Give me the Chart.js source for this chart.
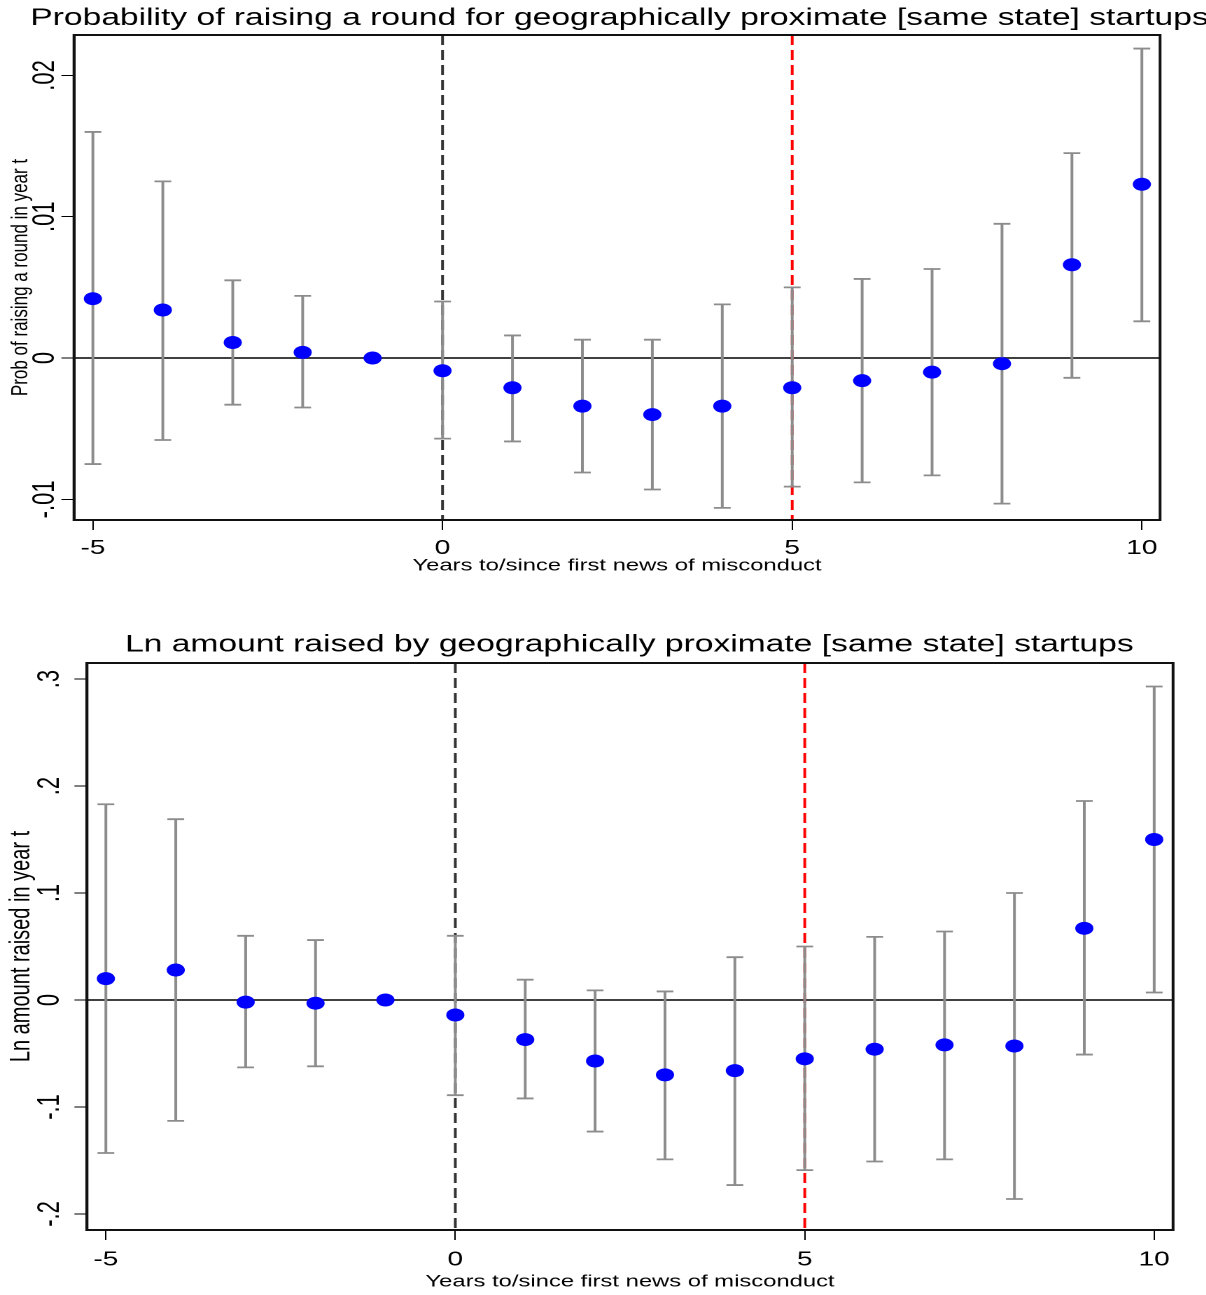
<!DOCTYPE html>
<html>
<head>
<meta charset="utf-8">
<script src="https://cdn.jsdelivr.net/npm/chart.js@4.4.1/dist/chart.umd.min.js"></script>
<style>
    html, body { margin: 0; padding: 0; background: #fff; overflow: hidden; }
    #wrap { position: relative; width: 1206px; height: 1295px; overflow: hidden; }
    /* the original figure is stretched sideways, so the canvases are too */
    canvas { position: absolute; left: 0; transform: scaleX(1.4); transform-origin: 0 0; }
    #probChart { top: 0; }
    #amountChart { top: 600px; }
</style>
</head>
<body>
<div id="wrap">
    <canvas id="probChart" width="885" height="600"></canvas>
    <canvas id="amountChart" width="899" height="695"></canvas>
</div>
<script>
const years = [-5, -4, -3, -2, -1, 0, 1, 2, 3, 4, 5, 6, 7, 8, 9, 10];
const yearTicks = [-5, 0, 5, 10];
const yearTickLabels = ['-5', '0', '5', '10'];

// top panel: probability of raising a round
const probCoef = [0.0042, 0.0034, 0.0011, 0.0004, 0, -0.0009, -0.0021, -0.0034, -0.0040, -0.0034, -0.0021, -0.0016, -0.0010, -0.0004, 0.0066, 0.0123];
const probLow = [-0.0075, -0.0058, -0.0033, -0.0035, null, -0.0057, -0.0059, -0.0081, -0.0093, -0.0106, -0.0091, -0.0088, -0.0083, -0.0103, -0.0014, 0.0026];
const probHigh = [0.0160, 0.0125, 0.0055, 0.0044, null, 0.0040, 0.0016, 0.0013, 0.0013, 0.0038, 0.0050, 0.0056, 0.0063, 0.0095, 0.0145, 0.0219];
const probTicks = [-0.01, 0, 0.01, 0.02];
const probTickLabels = ['-.01', '0', '.01', '.02'];

// bottom panel: ln amount raised
const amountCoef = [0.020, 0.028, -0.002, -0.003, 0, -0.014, -0.037, -0.057, -0.070, -0.066, -0.055, -0.046, -0.042, -0.043, 0.067, 0.150];
const amountLow = [-0.143, -0.113, -0.063, -0.062, null, -0.089, -0.092, -0.123, -0.149, -0.173, -0.159, -0.151, -0.149, -0.186, -0.051, 0.007];
const amountHigh = [0.183, 0.169, 0.060, 0.056, null, 0.060, 0.019, 0.009, 0.008, 0.040, 0.050, 0.059, 0.064, 0.100, 0.186, 0.293];
const amountTicks = [-0.2, -0.1, 0, 0.1, 0.2, 0.3];
const amountTickLabels = ['-.2', '-.1', '0', '.1', '.2', '.3'];

// event markers: first news (0) and five years later (5)
const eventYears = [0, 5];
const eventColors = ['#333333', '#ff0000'];

const FONT = "'Liberation Sans', Arial, sans-serif";
Chart.defaults.font.family = FONT;
Chart.defaults.color = '#000';

// zero line, dashed event lines, confidence bars and the plot frame
function makeCiPlugin(low, high) {
    return {
        id: 'ciBars',
        beforeDatasetsDraw(chart) {
            const ctx = chart.ctx;
            const area = chart.chartArea;
            const x = chart.scales.x;
            const y = chart.scales.y;
            ctx.save();

            const y0 = y.getPixelForValue(0);
            ctx.strokeStyle = '#404040';
            ctx.lineWidth = 2;
            ctx.beginPath();
            ctx.moveTo(area.left, y0);
            ctx.lineTo(area.right, y0);
            ctx.stroke();

            eventYears.forEach((ev, i) => {
                const px = x.getPixelForValue(ev);
                ctx.strokeStyle = eventColors[i];
                ctx.lineWidth = 2;
                ctx.setLineDash([10, 5]);
                ctx.beginPath();
                ctx.moveTo(px, area.top);
                ctx.lineTo(px, area.bottom);
                ctx.stroke();
            });
            ctx.setLineDash([]);

            ctx.strokeStyle = '#8c8c8c';
            years.forEach((yr, i) => {
                if (low[i] === null) return;
                const px = x.getPixelForValue(yr);
                const top = y.getPixelForValue(high[i]);
                const bot = y.getPixelForValue(low[i]);
                ctx.lineWidth = 2;
                ctx.beginPath();
                ctx.moveTo(px, top);
                ctx.lineTo(px, bot);
                ctx.stroke();
                ctx.lineWidth = 1.8;
                ctx.beginPath();
                ctx.moveTo(px - 6, top);
                ctx.lineTo(px + 6, top);
                ctx.moveTo(px - 6, bot);
                ctx.lineTo(px + 6, bot);
                ctx.stroke();
            });
            ctx.restore();
        },
        afterDraw(chart) {
            const ctx = chart.ctx;
            const a = chart.chartArea;
            ctx.save();
            ctx.strokeStyle = '#111';
            ctx.lineWidth = 2;
            ctx.strokeRect(a.left, a.top, a.right - a.left, a.bottom - a.top);
            ctx.restore();
        }
    };
}

function createChart(canvasId, cfg) {
    const ctx = document.getElementById(canvasId).getContext('2d');
    return new Chart(ctx, {
        type: 'scatter',
        data: {
            datasets: [{
                data: years.map((yr, i) => ({ x: yr, y: cfg.coef[i] })),
                backgroundColor: '#0000ff',
                borderWidth: 0,
                pointRadius: 6.5,
                pointHoverRadius: 6.5
            }]
        },
        options: {
            responsive: false,
            animation: false,
            devicePixelRatio: 2,
            layout: { padding: 0 },
            plugins: {
                legend: { display: false },
                tooltip: { enabled: false },
                title: {
                    display: true,
                    text: cfg.title,
                    color: '#000',
                    font: { size: 24, weight: 'normal', family: FONT },
                    padding: cfg.titlePadding
                }
            },
            scales: {
                x: {
                    type: 'linear',
                    position: 'bottom',
                    min: -5.27,
                    max: cfg.xMax,
                    afterBuildTicks: s => { s.ticks = yearTicks.map(v => ({ value: v })); },
                    afterFit: s => { s.height = cfg.xHeight; },
                    ticks: {
                        minRotation: 0,
                        maxRotation: 0,
                        padding: cfg.xTickPad,
                        color: '#000',
                        font: { size: 20 },
                        callback: (v, i) => yearTickLabels[i]
                    },
                    grid: { drawOnChartArea: false, drawTicks: true, tickLength: 10, color: '#000', lineWidth: 1 },
                    border: { display: true, color: '#000', width: 2 },
                    title: {
                        display: true,
                        text: 'Years to/since first news of misconduct',
                        color: '#000',
                        font: { size: 17 },
                        padding: { top: 0, bottom: cfg.xTitlePad }
                    }
                },
                y: {
                    type: 'linear',
                    position: 'left',
                    min: cfg.yMin,
                    max: cfg.yMax,
                    afterBuildTicks: s => { s.ticks = cfg.yTicks.map(v => ({ value: v })); },
                    afterFit: s => { s.width = cfg.yWidth; },
                    ticks: {
                        minRotation: 90,
                        maxRotation: 90,
                        crossAlign: 'center',
                        padding: cfg.yTickPad,
                        color: '#000',
                        font: { size: 22 },
                        callback: (v, i) => cfg.yTickLabels[i]
                    },
                    grid: { drawOnChartArea: false, drawTicks: true, tickLength: 9, color: '#000', lineWidth: 1 },
                    border: { display: true, color: '#000', width: 2 },
                    title: {
                        display: true,
                        text: cfg.yTitle,
                        color: '#000',
                        font: { size: cfg.yTitleSize },
                        padding: { top: cfg.yTitlePad, bottom: 0 }
                    }
                },
                // empty right-hand box so the title spans the whole figure
                yRight: {
                    type: 'linear',
                    position: 'right',
                    ticks: { display: false },
                    grid: { display: false },
                    border: { display: false },
                    afterFit: s => { s.width = cfg.rightWidth; }
                }
            }
        },
        plugins: [makeCiPlugin(cfg.low, cfg.high)]
    });
}

createChart('probChart', {
    title: 'Probability of raising a round for geographically proximate [same state] startups',
    titlePadding: { top: 4, bottom: 2.2 },
    coef: probCoef, low: probLow, high: probHigh,
    xMax: 10.26, xHeight: 80, xTickPad: 6.3, xTitlePad: 24,
    yMin: -0.01146, yMax: 0.02286,
    yTicks: probTicks, yTickLabels: probTickLabels,
    yWidth: 52.86, yTickPad: -7.75, yTitle: 'Prob of raising a round in year t', yTitleSize: 17, yTitlePad: 4.8,
    rightWidth: 56.4
});

createChart('amountChart', {
    title: 'Ln amount raised by geographically proximate [same state] startups',
    titlePadding: { top: 30.3, bottom: 3.9 },
    coef: amountCoef, low: amountLow, high: amountHigh,
    xMax: 10.27, xHeight: 65, xTickPad: 8, xTitlePad: 2.8,
    yMin: -0.215, yMax: 0.315,
    yTicks: amountTicks, yTickLabels: amountTickLabels,
    yWidth: 62.14, yTickPad: 4.3, yTitle: 'Ln amount raised in year t', yTitleSize: 20, yTitlePad: 3.7,
    rightWidth: 61.1
});
</script>
</body>
</html>
